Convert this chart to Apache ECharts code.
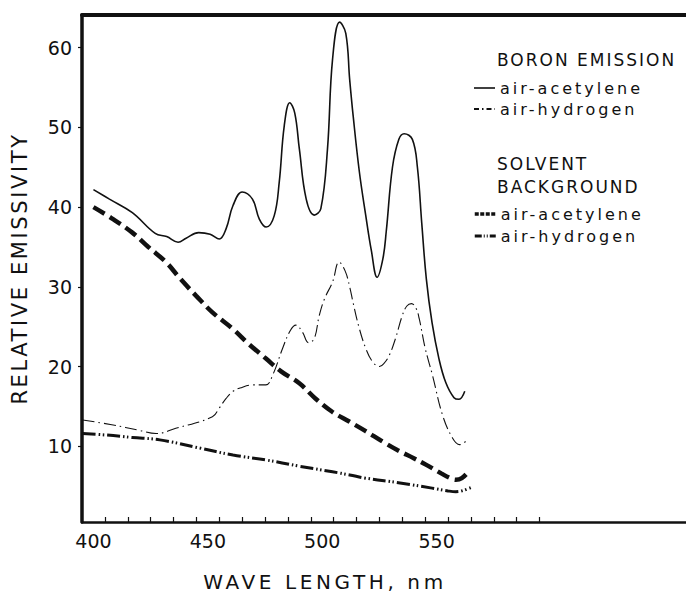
<!DOCTYPE html>
<html>
<head>
<meta charset="utf-8">
<title>Boron emission</title>
<script src="https://cdn.jsdelivr.net/npm/echarts@6.0.0/dist/echarts.min.js"></script>
<style>
  html, body { margin: 0; padding: 0; background: #fff; }
  #chart { width: 686px; height: 597px; }
  /* the original is hand lettered with wide spacing */
  #chart text[style*="21px"] { letter-spacing: 2.6px; }
  #chart text[style*="20px"] { letter-spacing: 3.6px; }
  #chart text[style*="17px"] { letter-spacing: 2px; }
  #chart text[style*="16px"] { letter-spacing: 3px; }
</style>
</head>
<body>
<div id="chart"></div>
<script>
// wavelength (nm) / relative emissivity
var boronAcetyleneNm = [400, 407, 417, 427, 432, 437, 440.5, 446, 451, 455, 458, 461, 465, 469.5, 472.5, 475.5, 479, 481.2, 483.4, 485.8, 488, 490, 493, 496.5, 499.4, 502.3, 504.5, 507.6, 510.3, 512, 513.5, 516.2, 519, 521.5, 524, 526.5, 528, 530.7, 533.5, 535.8, 539.4, 541.6, 543.5, 545.5, 548, 551, 554, 557.6, 559.8, 562.3];
var boronAcetyleneVal = [42.2, 41.0, 39.3, 36.7, 36.3, 35.6, 36.1, 36.8, 36.6, 36.0, 37.3, 40.2, 41.9, 41.0, 38.5, 37.5, 38.9, 43.1, 50.2, 53.1, 51.8, 47.3, 41.0, 39.0, 39.8, 47.3, 58.5, 63.2, 61.8, 56.0, 51.5, 44.5, 39.0, 34.5, 31.2, 33.5, 37.0, 45.0, 48.5, 49.2, 48.5, 45.0, 38.0, 31.0, 25.5, 21.0, 18.0, 16.1, 15.9, 16.9];

var boronHydrogenNm = [395.3, 408, 420, 427.4, 436, 452, 455, 458, 461, 464, 469.6, 475.4, 478.3, 482.7, 486, 488.5, 491.4, 494, 496.5, 498.7, 501, 504.5, 507.4, 510, 512, 513.5, 516, 519, 522, 525, 527, 529.3, 532, 535, 537, 539, 541, 542.4, 545, 548.2, 552.6, 557, 560, 562.7];
var boronHydrogenVal = [13.3, 12.7, 12.0, 11.6, 12.25, 13.7, 14.8, 16.0, 16.9, 17.3, 17.7, 17.7, 18.9, 22.3, 24.5, 25.2, 24.3, 23.0, 23.5, 26.4, 28.5, 30.6, 33.1, 32.0, 30.0, 28.0, 25.0, 22.3, 20.6, 20.0, 20.4, 21.4, 23.5, 26.4, 27.6, 27.9, 27.3, 26.0, 22.3, 18.9, 13.9, 11.0, 10.2, 10.6];

var solventAcetyleneNm = [400, 408, 417, 424, 431.7, 438, 444.8, 452, 460.8, 468, 475.4, 482, 490, 497, 504.5, 511.8, 519, 526.3, 533, 540, 545.3, 552, 556, 558.4, 561, 564.2];
var solventAcetyleneVal = [40.0, 38.6, 36.8, 35.0, 33.1, 31.0, 28.9, 26.8, 24.75, 22.8, 21.0, 19.4, 17.9, 16.0, 14.3, 13.1, 11.9, 10.6, 9.5, 8.5, 7.7, 6.6, 6.0, 5.8, 6.0, 6.9];

var solventHydrogenNm = [395.3, 406, 417, 429, 446, 461, 475, 490, 504.5, 512, 519, 534, 548, 555, 558.4, 561, 564.9];
var solventHydrogenVal = [11.6, 11.4, 11.1, 10.8, 9.8, 8.9, 8.3, 7.5, 6.8, 6.4, 6.0, 5.4, 4.75, 4.4, 4.3, 4.4, 4.8];

var xLabelValues = [400, 450, 500, 550];
var xTickValues = [405, 415, 425, 435, 445, 455, 465, 475, 485, 495, 505, 515, 525, 535, 545, 555, 565, 575, 585, 595];
var yTickValues = [10, 20, 30, 40, 50, 60];

var legendText = {
    'boron acetylene': 'air-acetylene',
    'boron hydrogen': 'air-hydrogen',
    'solvent acetylene': 'air-acetylene',
    'solvent hydrogen': 'air-hydrogen'
};

function zip(xs, ys) {
    var out = [];
    for (var i = 0; i < xs.length; i++) {
        out.push([xs[i], ys[i]]);
    }
    return out;
}

var ink = '#111';
var font = 'DejaVu Sans';
// line series put a symbol in their legend icon, keep it invisible
var noDot = { color: 'rgba(0,0,0,0)', borderColor: 'rgba(0,0,0,0)', borderWidth: 0 };

var myChart = echarts.init(document.getElementById('chart'), null, { renderer: 'svg' });

var option = {
    animation: false,
    backgroundColor: '#fff',
    textStyle: { fontFamily: font, color: ink },
    title: [
        {
            text: 'BORON EMISSION',
            left: 497, top: 50, padding: 0,
            textStyle: { fontFamily: font, fontSize: 17, fontWeight: 'normal', color: ink, lineHeight: 20 }
        },
        {
            text: 'SOLVENT\nBACKGROUND',
            left: 497, top: 152, padding: 0,
            textStyle: { fontFamily: font, fontSize: 17, fontWeight: 'normal', color: ink, lineHeight: 23 }
        }
    ],
    legend: [
        {
            orient: 'vertical', left: 473, top: 80, padding: 0,
            itemWidth: 21, itemHeight: 14, itemGap: 5,
            itemStyle: noDot,
            data: [
                { name: 'boron acetylene', lineStyle: { width: 1.6 } },
                { name: 'boron hydrogen', lineStyle: { type: [5, 3, 1.5, 3] } }
            ],
            formatter: function (name) { return legendText[name]; },
            textStyle: { fontFamily: font, fontSize: 16, color: ink, lineHeight: 14 }
        },
        {
            orient: 'vertical', left: 473, top: 206, padding: 0,
            itemWidth: 21, itemHeight: 14, itemGap: 6,
            itemStyle: noDot,
            data: [
                { name: 'solvent acetylene', lineStyle: { type: [4, 1.5], width: 3.5 } },
                { name: 'solvent hydrogen', lineStyle: { type: [7, 2, 1, 2, 1, 2], width: 3 } }
            ],
            formatter: function (name) { return legendText[name]; },
            textStyle: { fontFamily: font, fontSize: 16, color: ink, lineHeight: 14 }
        }
    ],
    grid: { left: 82, right: 0, top: 15, bottom: 73 },
    xAxis: [
        {
            type: 'value',
            min: 395, max: 659,
            name: 'WAVE LENGTH, nm',
            nameLocation: 'middle',
            nameGap: 50,
            nameTextStyle: { fontFamily: font, fontSize: 20, color: ink, padding: [0, 118, 0, 0] },
            axisLine: { onZero: false, lineStyle: { color: ink, width: 2.5 } },
            axisTick: { show: true, inside: true, length: 5, customValues: xTickValues, lineStyle: { color: ink, width: 1.2 } },
            axisLabel: {
                customValues: xLabelValues, margin: 9,
                fontFamily: font, fontSize: 19, color: ink
            },
            splitLine: { show: false }
        },
        {
            type: 'value',
            position: 'top',
            min: 395, max: 659,
            axisLine: { show: true, onZero: false, lineStyle: { color: ink, width: 4 } },
            axisTick: { show: false },
            axisLabel: { show: false },
            splitLine: { show: false }
        }
    ],
    yAxis: {
        type: 'value',
        min: 0.5, max: 64.1,
        name: 'RELATIVE EMISSIVITY',
        nameLocation: 'middle',
        nameGap: 52,
        nameTextStyle: { fontFamily: font, fontSize: 21, color: ink },
        axisLine: { show: true, onZero: false, lineStyle: { color: ink, width: 3.5 } },
        axisTick: { show: true, length: 4, customValues: yTickValues, lineStyle: { color: ink, width: 1.2 } },
        axisLabel: {
            customValues: yTickValues, margin: 10,
            fontFamily: font, fontSize: 19, color: ink
        },
        splitLine: { show: false }
    },
    series: [
        {
            name: 'boron acetylene',
            type: 'line', smooth: 0.4, symbol: 'circle', showSymbol: false,
            data: zip(boronAcetyleneNm, boronAcetyleneVal),
            itemStyle: noDot,
            lineStyle: { color: ink, width: 1.6 }
        },
        {
            name: 'boron hydrogen',
            type: 'line', smooth: 0.4, symbol: 'circle', showSymbol: false,
            data: zip(boronHydrogenNm, boronHydrogenVal),
            itemStyle: noDot,
            lineStyle: { color: ink, width: 1.1, type: [12, 4, 1.5, 4] }
        },
        {
            name: 'solvent acetylene',
            type: 'line', smooth: 0.4, symbol: 'circle', showSymbol: false,
            data: zip(solventAcetyleneNm, solventAcetyleneVal),
            itemStyle: noDot,
            lineStyle: { color: ink, width: 4.5, type: [13, 6] }
        },
        {
            name: 'solvent hydrogen',
            type: 'line', smooth: 0.4, symbol: 'circle', showSymbol: false,
            data: zip(solventHydrogenNm, solventHydrogenVal),
            itemStyle: noDot,
            lineStyle: { color: ink, width: 3, type: [13, 3, 1.5, 2.5, 1.5, 3] }
        }
    ]
};

option && myChart.setOption(option);
</script>
</body>
</html>
